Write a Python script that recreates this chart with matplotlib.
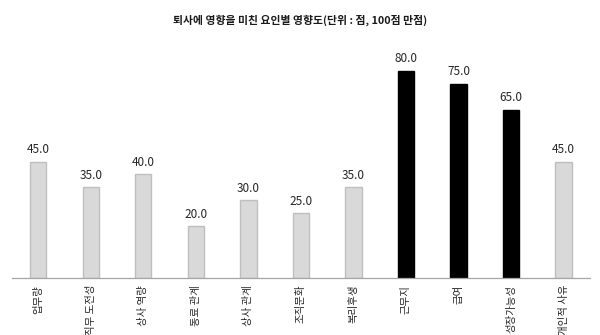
import matplotlib
matplotlib.use("Agg")
import matplotlib.pyplot as plt

plt.rcParams['font.family'] = ['Noto Sans CJK KR', 'DejaVu Sans']

categories = ['업무량', '직무 도전성', '상사 역량', '동료 관계', '상사 관계', '조직문화',
              '복리후생', '근무지', '급여', '성장가능성', '개인적 사유']
values = [45.0, 35.0, 40.0, 20.0, 30.0, 25.0, 35.0, 80.0, 75.0, 65.0, 45.0]
highlight = [False, False, False, False, False, False, False, True, True, True, False]
title = '퇴사에 영향을 미친 요인별 영향도(단위 : 점, 100점 만점)'

fig = plt.figure(figsize=(6.0, 3.35), dpi=100)
ax = fig.add_axes([0.02, 0.170, 0.963, 0.773])

x = list(range(len(categories)))
faces = ['#000000' if h else '#d9d9d9' for h in highlight]
edges = ['#000000' if h else '#bfbfbf' for h in highlight]
bars = ax.bar(x, values, width=0.31, color=faces, edgecolor=edges, linewidth=1.0)

for xi, v in zip(x, values):
    ax.annotate(f'{v:.1f}', (xi, v), xytext=(0, 4), textcoords='offset points',
                ha='center', va='bottom', fontsize=8.5, color='#262626')

ax.set_xlim(-0.5, 10.5)
ax.set_ylim(0, 100)
ax.set_xticks(x)
ax.set_xticklabels(categories, rotation=90, fontsize=7.5, color='#262626', va='top', ha='center')
ax.tick_params(axis='x', length=0, pad=5)
ax.set_yticks([])
for s in ['top', 'right', 'left']:
    ax.spines[s].set_visible(False)
ax.spines['bottom'].set_color('#a6a6a6')
ax.spines['bottom'].set_linewidth(0.9)

fig.text(0.5, 0.94, title, ha='center', va='center', fontsize=7.8, fontweight='bold', color='#1a1a1a')

fig.savefig('out.png', dpi=100, facecolor='white')
